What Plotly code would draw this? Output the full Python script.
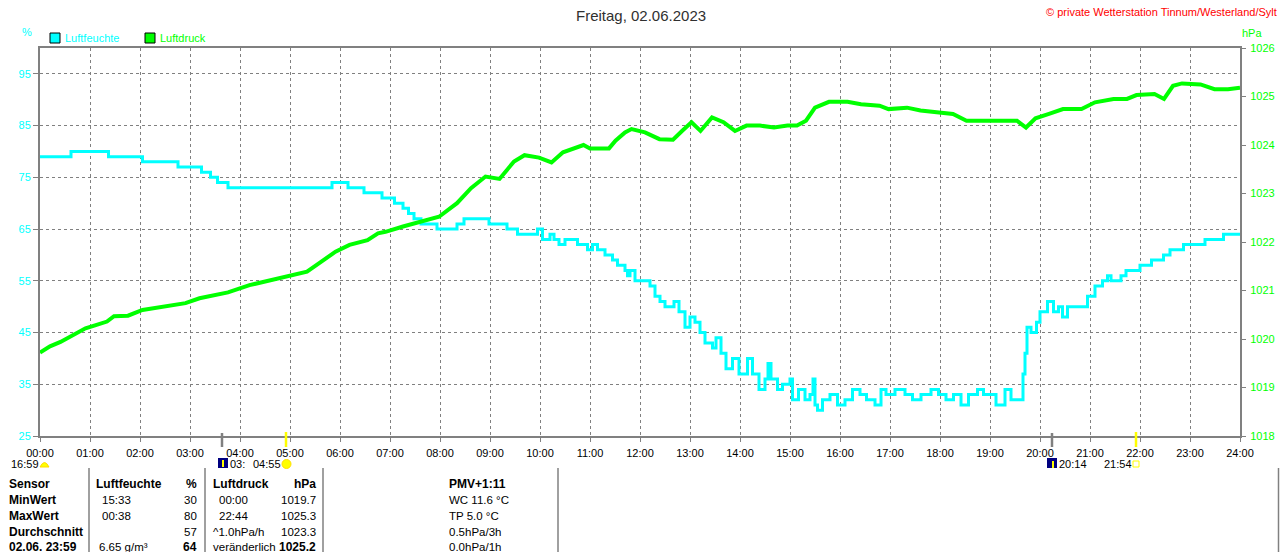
import plotly.graph_objects as go

# ---------------- data ----------------
hour_ticks = list(range(25))
hour_labels = [f"{h:02d}:00" for h in hour_ticks]
hum_ticks = [25, 35, 45, 55, 65, 75, 85, 95]
pres_ticks = [1018, 1019, 1020, 1021, 1022, 1023, 1024, 1025, 1026]

# Luftfeuchte (%) - time in hours
hum_t = [0.0, 0.62, 1.37, 2.05, 2.76, 3.23, 3.41, 3.55, 3.76, 5.84, 6.16, 6.48, 6.84,
         7.09, 7.26, 7.37, 7.48, 7.62, 7.94, 8.34, 8.48, 8.98, 9.34, 9.55, 9.95, 10.05,
         10.2, 10.28, 10.38, 10.5, 10.75, 10.95, 11.05, 11.15, 11.3, 11.45, 11.55, 11.7,
         11.75, 11.8, 11.9, 12.2, 12.3, 12.4, 12.5, 12.68, 12.78, 12.9, 13.0, 13.1, 13.2,
         13.3, 13.45, 13.52, 13.62, 13.72, 13.85, 13.98, 14.15, 14.25, 14.38, 14.5, 14.56,
         14.62, 14.75, 14.85, 15.0, 15.05, 15.17, 15.3, 15.4, 15.46, 15.5, 15.55, 15.65,
         15.8, 15.95, 16.1, 16.25, 16.4, 16.53, 16.7, 16.82, 16.92, 17.1, 17.3, 17.45,
         17.62, 17.82, 17.97, 18.12, 18.27, 18.42, 18.57, 18.75, 18.87, 19.12, 19.3, 19.42,
         19.66, 19.7, 19.74, 19.82, 19.93, 20.0, 20.15, 20.27, 20.37, 20.45, 20.55, 20.95,
         21.1, 21.25, 21.35, 21.42, 21.62, 21.72, 22.0, 22.23, 22.47, 22.6, 22.87, 23.3,
         23.67, 24.0]
hum_v = [79, 80, 79, 78, 77, 76, 75, 74, 73, 74, 73, 72, 71,
         70, 69, 68, 67, 66, 65, 66, 67, 66, 65, 64, 65, 63,
         64, 63, 62, 63, 62, 61, 62, 61, 60, 59, 58, 57,
         56, 57, 55, 54, 52, 51, 50, 51, 49, 46, 48, 47, 45,
         43, 42, 44, 41, 38, 40, 37, 40, 37, 34, 36, 39,
         36, 34, 35, 36, 32, 34, 32, 33, 36, 31, 30, 32,
         33, 31, 32, 34, 33, 32, 31, 34, 33, 34, 33, 32,
         33, 34, 33, 32, 33, 31, 33, 34, 33, 31, 34, 32,
         37, 41, 46, 45, 47, 49, 51, 49, 50, 48, 50, 52,
         54, 55, 56, 55, 56, 57, 58, 59, 60, 61, 62, 63,
         64, 64]

# Luftdruck (hPa)
pres_t = [0.0, 0.2, 0.41, 0.6, 0.91, 1.1, 1.34, 1.48, 1.76, 2.05, 2.3, 2.55, 2.91, 3.19,
          3.5, 3.76, 4.19, 4.62, 4.91, 5.34, 5.62, 5.91, 6.19, 6.55, 6.76, 6.91, 7.26,
          7.62, 7.98, 8.34, 8.62, 8.91, 9.19, 9.48, 9.69, 9.98, 10.23, 10.46, 10.64, 10.87,
          11.0, 11.38, 11.51, 11.7, 11.83, 12.1, 12.39, 12.66, 12.84, 13.03, 13.21, 13.44,
          13.67, 13.9, 14.13, 14.4, 14.68, 14.95, 15.14, 15.32, 15.5, 15.78, 16.15, 16.42,
          16.79, 16.97, 17.34, 17.61, 17.98, 18.26, 18.53, 18.81, 19.17, 19.54, 19.72,
          19.91, 20.18, 20.46, 20.83, 21.1, 21.47, 21.74, 21.93, 22.29, 22.48, 22.66, 22.84,
          23.21, 23.49, 23.76, 24.0]
pres_v = [1019.72, 1019.85, 1019.94, 1020.05, 1020.22, 1020.28, 1020.36, 1020.47, 1020.48,
          1020.60, 1020.64, 1020.70, 1020.74, 1020.84, 1020.90, 1020.96, 1021.11, 1021.22,
          1021.28, 1021.39, 1021.59, 1021.80, 1021.94, 1022.04, 1022.18, 1022.21, 1022.32,
          1022.42, 1022.52, 1022.80, 1023.11, 1023.35, 1023.30, 1023.66, 1023.79, 1023.74,
          1023.64, 1023.85, 1023.92, 1024.00, 1023.93, 1023.93, 1024.09, 1024.26, 1024.33,
          1024.26, 1024.12, 1024.11, 1024.29, 1024.47, 1024.29, 1024.57, 1024.47, 1024.29,
          1024.40, 1024.40, 1024.36, 1024.40, 1024.40, 1024.50, 1024.77, 1024.89, 1024.89,
          1024.84, 1024.81, 1024.74, 1024.77, 1024.71, 1024.67, 1024.64, 1024.50, 1024.50,
          1024.50, 1024.50, 1024.36, 1024.55, 1024.64, 1024.74, 1024.74, 1024.88, 1024.95,
          1024.95, 1025.03, 1025.05, 1024.95, 1025.22, 1025.27, 1025.25, 1025.15, 1025.15,
          1025.18]

# table texts
row_labels = ["Sensor", "MinWert", "MaxWert", "Durchschnitt", "02.06. 23:59"]
hum_col_labels = ["Luftfeuchte", "15:33", "00:38", "", "6.65 g/m³"]
hum_col_values = ["%", "30", "80", "57", "64"]
pres_col_labels = ["Luftdruck", "00:00", "22:44", "^1.0hPa/h", "veränderlich"]
pres_col_values = ["hPa", "1019.7", "1025.3", "1023.3", "1025.2"]
info_col = ["PMV+1:11", "WC 11.6 °C", "TP 5.0 °C", "0.5hPa/3h", "0.0hPa/1h"]

CYAN = "#00FFFF"
GREEN = "#00FF00"
GRAY = "#808080"
FONT = "Liberation Sans, Arial, sans-serif"

# plot area in pixels: x 40..1240, y 48..436
def X(px):
    return (px - 40) / 1200.0

def Y(py):
    return (436 - py) / 388.0

fig = go.Figure()
fig.add_trace(go.Scatter(x=hum_t, y=hum_v, mode="lines", line=dict(color=CYAN, width=3, shape="hv"),
                         name="Luftfeuchte", yaxis="y", hoverinfo="skip"))
fig.add_trace(go.Scatter(x=pres_t, y=pres_v, mode="lines", line=dict(color=GREEN, width=4),
                         name="Luftdruck", yaxis="y2", hoverinfo="skip"))

ann = []
def text(px, py, s, color="black", size=11, anchor="left"):
    ann.append(dict(x=X(px), y=Y(py), xref="paper", yref="paper", text=s, showarrow=False,
                    xanchor=anchor, yanchor="middle", font=dict(family=FONT, size=size, color=color)))

text(641, 15, "Freitag, 02.06.2023", color="#303030", size=15, anchor="center")
text(1279, 12, "© private Wetterstation Tinnum/Westerland/Sylt", color="#FF0000", size=11, anchor="right")
text(27, 32, "%", color=CYAN, size=11, anchor="center")
text(1240, 33, "hPa", color=GREEN, size=11, anchor="left")
text(63, 38, "Luftfeuchte", color=CYAN, size=11)
text(158, 38, "Luftdruck", color=GREEN, size=11)

# sun / moon times below axis
text(9, 464, "16:59", size=11)
text(228, 464, "03:", size=11)
text(251, 464, "04:55", size=11)
text(1057, 464, "20:14", size=11)
text(1102, 464, "21:54", size=11)

# table
TS = 11.5
rows_y = [484, 500, 516, 532, 547]
for i, y in enumerate(rows_y):
    text(7, y, f"<b>{row_labels[i]}</b>", size=12)
    if i == 0:
        text(94, y, f"<b>{hum_col_labels[i]}</b>", size=12)
        text(199, y, f"<b>{hum_col_values[i]}</b>", size=12, anchor="right")
        text(211, y, f"<b>{pres_col_labels[i]}</b>", size=12)
        text(318, y, f"<b>{pres_col_values[i]}</b>", size=12, anchor="right")
        text(447, y, f"<b>{info_col[i]}</b>", size=12)
    else:
        lx = 97 if i == 4 else 100
        text(lx, y, hum_col_labels[i], size=TS)
        v = f"<b>{hum_col_values[i]}</b>" if i == 4 else hum_col_values[i]
        text(199, y, v, size=12 if i == 4 else TS, anchor="right")
        px_ = 211 if i >= 3 else 217
        text(px_, y, pres_col_labels[i], size=TS)
        v = f"<b>{pres_col_values[i]}</b>" if i == 4 else pres_col_values[i]
        text(318, y, v, size=12 if i == 4 else TS, anchor="right")
        text(447, y, info_col[i], size=TS)

shapes = []
def rect(x0, y0, x1, y1, fill, line=None, lw=1):
    shapes.append(dict(type="rect", xref="paper", yref="paper", x0=X(x0), x1=X(x1), y0=Y(y1), y1=Y(y0),
                       fillcolor=fill, line=dict(color=line or fill, width=lw if line else 0), layer="above"))

def vline(px, y0, y1, color, w):
    shapes.append(dict(type="line", xref="paper", yref="paper", x0=X(px), x1=X(px), y0=Y(y0), y1=Y(y1),
                       line=dict(color=color, width=w), layer="above"))

# legend boxes
rect(50, 33, 60, 43, CYAN, "black", 1)
rect(145, 33, 155, 43, GREEN, "black", 1)

# axis markers (moon/sun rise-set)
vline(222, 433, 447, GRAY, 2.5)
vline(286, 432, 447, "#FFFF00", 2.5)
vline(1052, 433, 447, GRAY, 2.5)
vline(1136, 432, 447, "#FFFF00", 2.5)

# icons
shapes.append(dict(type="path", xref="paper", yref="paper",
                   path=f"M {X(40)},{Y(467)} Q {X(44.5)},{Y(458)} {X(49)},{Y(467)} Z",
                   fillcolor="#FFFF00", line=dict(color="#FFD800", width=1), layer="above"))
rect(218, 458, 228, 468, "#000080")
vline(223, 460, 467, "#FFFF00", 2)
rect(1047, 458, 1057, 468, "#000080")
vline(1053, 461, 468, "#FFFF00", 2)
shapes.append(dict(type="circle", xref="paper", yref="paper", x0=X(282), x1=X(291), y0=Y(468.5), y1=Y(459.5),
                   fillcolor="#FFFF00", line=dict(color="#FFE000", width=1), layer="above"))
rect(1133, 461, 1139, 467, "rgba(0,0,0,0)", "#FFFF00", 1)

# table separators
for sx in [89, 205, 323, 558, 1278.5]:
    vline(sx, 468, 560, GRAY, 1.5)

fig.update_layout(
    width=1280, height=552, autosize=False,
    margin=dict(l=40, r=40, t=48, b=116, autoexpand=False),
    paper_bgcolor="white", plot_bgcolor="white",
    showlegend=False,
    font=dict(family=FONT, size=11, color="black"),
    xaxis=dict(range=[0, 24], tickvals=hour_ticks, ticktext=hour_labels, automargin=False,
               showgrid=True, gridcolor=GRAY, gridwidth=1, griddash="3px,3px",
               showline=True, linecolor=GRAY, linewidth=2, mirror=True,
               ticks="outside", ticklen=4, tickcolor=GRAY, tickwidth=1, ticklabelstandoff=2,
               tickfont=dict(color="black", size=11), zeroline=False, fixedrange=True),
    yaxis=dict(range=[25, 100], tickvals=hum_ticks, automargin=False,
               showgrid=True, gridcolor=GRAY, gridwidth=1, griddash="3px,3px",
               showline=True, linecolor=GRAY, linewidth=2, mirror=True,
               ticks="outside", ticklen=5, tickcolor=GRAY, tickwidth=1,
               tickfont=dict(color=CYAN, size=11), zeroline=False, fixedrange=True),
    yaxis2=dict(range=[1018, 1026], tickvals=pres_ticks, overlaying="y", side="right", automargin=False,
                showgrid=False, showline=False, ticks="outside", ticklen=5, tickcolor=GRAY, tickwidth=1,
                ticklabelstandoff=2,
                tickfont=dict(color=GREEN, size=11), zeroline=False, fixedrange=True),
    annotations=ann, shapes=shapes,
)

fig.write_html("out.html", config={"displayModeBar": False},
               post_script="document.body.style.margin='0';document.body.style.overflow='hidden';")
